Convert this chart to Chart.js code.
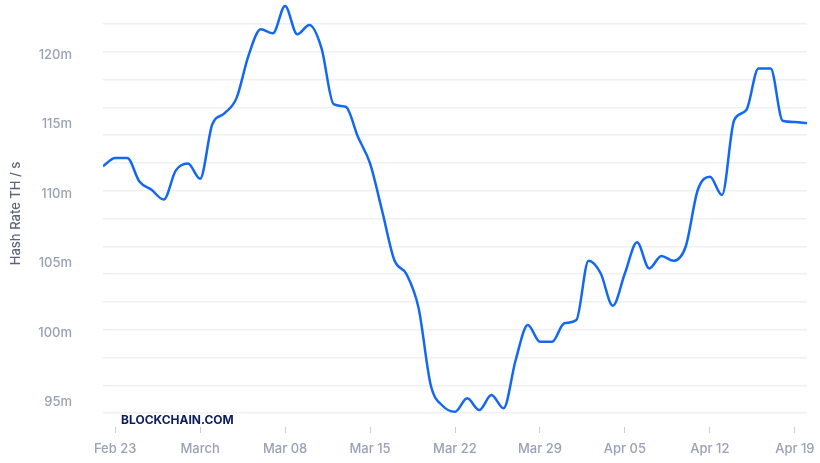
<!DOCTYPE html>
<html><head><meta charset="utf-8">
<script src="https://cdn.jsdelivr.net/npm/chart.js@4"></script>
<style>
html,body{margin:0;padding:0;background:#fff;}
#wrap{position:relative;width:820px;height:463px;overflow:hidden;}
#mark{position:absolute;left:121px;top:413px;font:700 12px Inter, sans-serif;line-height:14px;color:#0c1f5c;white-space:nowrap;}
</style></head><body>
<div id="wrap"><canvas id="c" width="820" height="463"></canvas><div id="mark">BLOCKCHAIN.COM</div></div>
<script>
// days counted from Feb 23 (2020)
const dayOffsets = [-1,0,1,2,3,4,5,6,7,8,9,10,11,12,13,14,15,16,17,18,19,20,21,22,23,24,25,26,27,28,29,30,31,32,33,34,35,36,37,38,39,40,41,42,43,44,45,46,47,48,49,50,51,52,53,54,55,56,57];
// hash rate, million TH/s
const hashRate = [112.0,112.6,112.6,110.9,110.3,109.6,111.7,112.2,111.1,115.0,115.8,116.9,120.0,121.85,121.56,123.53,121.49,122.16,120.5,116.47,116.28,114.12,112.2,108.78,105.25,104.24,101.8,96.26,94.75,94.34,95.3,94.46,95.54,94.58,98.06,100.58,99.37,99.37,100.7,100.94,105.2,104.3,101.96,104.3,106.53,104.65,105.54,105.2,106.21,110.29,111.24,109.93,115.32,116.04,119.04,119.04,115.27,115.18,115.09];
const tickDays = [0,7,14,21,28,35,42,49,56];
const tickLabels = ['Feb 23','March','Mar 08','Mar 15','Mar 22','Mar 29','Apr 05','Apr 12','Apr 19'];
const yTicks = [95,100,105,110,115,120];
const Y_MIN = 93.24, Y_MAX = 123.96;
const GRID_SHIFT = -0.23, GRID_STEP = 2;

const labelColor = '#98a1b5';
const labelFont = {family:'Inter', size:13, weight:'500'};
const noPad = s=>{s.paddingTop=0; s.paddingBottom=0; s.paddingLeft=0; s.paddingRight=0;};

new Chart(document.getElementById('c'), {
  type:'line',
  data:{datasets:[{
    data: dayOffsets.map((d,i)=>({x:d, y:hashRate[i]})),
    borderColor:'#1368f2', borderWidth:2.5, pointRadius:0,
    cubicInterpolationMode:'monotone', fill:false, xAxisID:'x', yAxisID:'y'
  }]},
  options:{
    responsive:false, animation:false, devicePixelRatio:1,
    layout:{autoPadding:false, padding:{left:0,right:13,top:0,bottom:0}},
    plugins:{legend:{display:false}, tooltip:{enabled:false}},
    scales:{
      x:{type:'linear', min:-1, max:57,
        border:{display:false},
        grid:{drawOnChartArea:false, drawTicks:true, tickLength:6, color:'#c9ced8'},
        afterBuildTicks:s=>{s.ticks = tickDays.map(v=>({value:v}));},
        ticks:{autoSkip:false, maxRotation:0, padding:8, color:labelColor, font:labelFont,
          callback:v=>{const i = tickDays.indexOf(v); return i>=0 ? tickLabels[i] : '';}},
        afterFit:s=>{s.height = 36; noPad(s);}
      },
      y:{type:'linear', position:'left', min:Y_MIN, max:Y_MAX,
        border:{display:false},
        grid:{display:true, drawOnChartArea:false, drawTicks:true, tickLength:31, tickColor:'rgba(0,0,0,0)', color:'rgba(0,0,0,0)'},
        afterBuildTicks:s=>{s.ticks = yTicks.map(v=>({value:v}));},
        ticks:{padding:0, color:labelColor, font:labelFont, callback:v=>v+'m'},
        title:{display:true, text:'Hash Rate TH / s', color:'#5b6478', font:{family:'Inter', size:13, weight:'500'}, padding:{top:8,bottom:0}},
        afterFit:s=>{s.width = 103; noPad(s);}
      },
      yg:{type:'linear', position:'left', min:Y_MIN+GRID_SHIFT, max:Y_MAX+GRID_SHIFT,
        border:{display:false},
        grid:{color:'#eef0f4', lineWidth:1.5, drawTicks:false},
        ticks:{display:false, padding:0, stepSize:GRID_STEP, includeBounds:false},
        afterFit:s=>{s.width = 0; noPad(s);}
      }
    }
  }
});
</script>
</body></html>
